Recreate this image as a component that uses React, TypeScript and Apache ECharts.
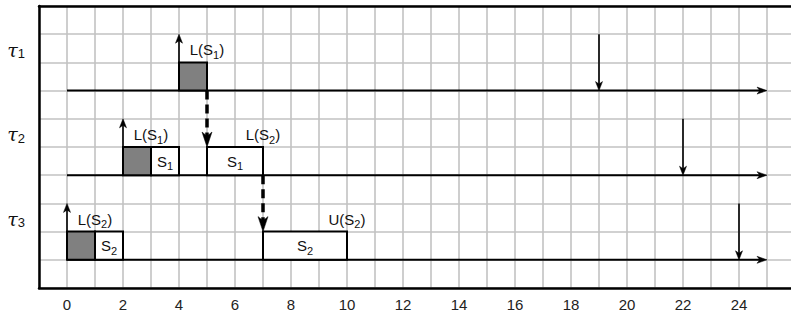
import React, { useEffect, useRef } from "react";
import * as echarts from "echarts";

// ---- axes ----
const X_MIN = -1;
const X_MAX = 26;
const Y_MIN = 0;
const Y_MAX = 10;
const xTickLabels = [0, 2, 4, 6, 8, 10, 12, 14, 16, 18, 20, 22, 24];

// ---- tasks ----
const taskSubscripts = ["1", "2", "3"];
const taskBaselines = [7, 4, 1];
const releaseTimes = [4, 2, 0];
const deadlines = [19, 22, 24];
const horizonEnd = 25;
const arrowRise = 2;

// ---- blocked (grey) sections ----
const blockedStart = [4, 2, 0];
const blockedEnd = [5, 3, 1];
const blockedTask = [0, 1, 2];

// ---- critical sections (white) ----
const csStart = [3, 5, 1, 7];
const csEnd = [4, 7, 2, 10];
const csTask = [1, 1, 2, 2];
const csResource = ["1", "1", "2", "2"];

// ---- lock / unlock event labels ----
const evX = [5, 3, 7, 1, 10];
const evTask = [0, 1, 1, 2, 2];
const evOp = ["L", "L", "L", "L", "U"];
const evResource = ["1", "1", "2", "2", "2"];

// ---- dashed transfer arrows ----
const transferX = [5, 7];
const transferFrom = [0, 1];
const transferTo = [1, 2];

const SANS = "'Liberation Sans', Arial, sans-serif";

export default function App() {
  const ref = useRef<HTMLDivElement>(null);

  useEffect(() => {
    if (!ref.current) return;
    const chart = echarts.init(ref.current, undefined, { renderer: "svg" });

    // boxes: [start, end, baseline, kind]  kind 0 = grey, 1 = white
    const boxData: number[][] = [];
    const boxRes: string[] = [];
    blockedStart.forEach((s, i) => {
      boxData.push([s, blockedEnd[i], taskBaselines[blockedTask[i]], 0]);
      boxRes.push("");
    });
    csStart.forEach((s, i) => {
      boxData.push([s, csEnd[i], taskBaselines[csTask[i]], 1]);
      boxRes.push(csResource[i]);
    });

    // arrows: [x1, y1, x2, y2, kind] kind 0 = timeline, 1 = thin, 2 = dashed
    const arrowData: number[][] = [];
    taskBaselines.forEach((b) => arrowData.push([0, b, horizonEnd, b, 0]));
    releaseTimes.forEach((r, i) =>
      arrowData.push([r, taskBaselines[i], r, taskBaselines[i] + arrowRise, 1])
    );
    deadlines.forEach((d, i) =>
      arrowData.push([d, taskBaselines[i] + arrowRise, d, taskBaselines[i], 1])
    );
    transferX.forEach((x, i) =>
      arrowData.push([x, taskBaselines[transferFrom[i]], x, taskBaselines[transferTo[i]] + 1, 2])
    );

    const arrowStyles = [
      { w: 2, len: 10, hw: 7, dash: null as number[] | null },
      { w: 1.6, len: 9, hw: 7, dash: null as number[] | null },
      { w: 3.5, len: 15, hw: 10, dash: [9, 5] },
    ];

    const evData = evX.map((x, i) => [x, taskBaselines[evTask[i]] + 1.44]);
    const tauData = taskBaselines.map((b) => [X_MIN, b + 1.45]);

    const richSub = (main: number, sub: number, pad: number, family = SANS) => ({
      m: { fontSize: main, fontFamily: family, fill: "#111" },
      s: { fontSize: sub, fontFamily: SANS, fill: "#111", padding: [pad, 0, 0, 0] },
    });

    chart.setOption({
      animation: false,
      backgroundColor: "#fff",
      grid: {
        left: 39,
        top: 6,
        width: 756,
        height: 282,
        containLabel: false,
        outerBoundsMode: "none",
      },
      xAxis: [
        {
          type: "value",
          min: X_MIN,
          max: X_MAX,
          interval: 1,
          position: "bottom",
          axisLine: { show: true, onZero: false, lineStyle: { color: "#000", width: 2.5 } },
          axisTick: { show: false },
          splitLine: { show: true, lineStyle: { color: "#c2c2c2", width: 1.6 } },
          axisLabel: {
            show: true,
            margin: 9,
            fontSize: 15,
            fontFamily: SANS,
            color: "#222",
            showMinLabel: true,
            showMaxLabel: true,
            formatter: (v: number) => (xTickLabels.indexOf(v) >= 0 ? String(v) : ""),
          },
        },
        {
          type: "value",
          min: X_MIN,
          max: X_MAX,
          interval: 1,
          position: "top",
          axisLine: { show: true, onZero: false, lineStyle: { color: "#000", width: 2.5 } },
          axisTick: { show: false },
          splitLine: { show: false },
          axisLabel: { show: false },
        },
      ],
      yAxis: {
        type: "value",
        min: Y_MIN,
        max: Y_MAX,
        interval: 1,
        axisLine: { show: true, onZero: false, lineStyle: { color: "#000", width: 2.5 } },
        axisTick: { show: false },
        axisLabel: { show: false },
        splitLine: { show: true, lineStyle: { color: "#c2c2c2", width: 1.6 } },
      },
      series: [
        {
          type: "custom",
          name: "arrows",
          silent: true,
          z: 3,
          data: arrowData,
          encode: { x: [0, 2], y: [1, 3] },
          renderItem: (params: any, api: any) => {
            const p1 = api.coord([api.value(0), api.value(1)]);
            const p2 = api.coord([api.value(2), api.value(3)]);
            const st = arrowStyles[api.value(4)];
            const dx = p2[0] - p1[0];
            const dy = p2[1] - p1[1];
            const d = Math.sqrt(dx * dx + dy * dy) || 1;
            const ux = dx / d;
            const uy = dy / d;
            const px = -uy;
            const py = ux;
            const endX = p2[0] - ux * st.len * 0.6;
            const endY = p2[1] - uy * st.len * 0.6;
            const bx = p2[0] - ux * st.len;
            const by = p2[1] - uy * st.len;
            const nx = p2[0] - ux * st.len * 0.72;
            const ny = p2[1] - uy * st.len * 0.72;
            return {
              type: "group",
              children: [
                {
                  type: "line",
                  shape: { x1: p1[0], y1: p1[1], x2: endX, y2: endY },
                  style: {
                    stroke: "#000",
                    lineWidth: st.w,
                    lineDash: st.dash || undefined,
                  },
                },
                {
                  type: "polygon",
                  shape: {
                    points: [
                      [p2[0], p2[1]],
                      [bx + (px * st.hw) / 2, by + (py * st.hw) / 2],
                      [nx, ny],
                      [bx - (px * st.hw) / 2, by - (py * st.hw) / 2],
                    ],
                  },
                  style: { fill: "#000", stroke: "#000", lineWidth: 0.5 },
                },
              ],
            };
          },
        },
        {
          type: "custom",
          name: "sections",
          silent: true,
          z: 4,
          data: boxData,
          encode: { x: [0, 1], y: 2 },
          renderItem: (params: any, api: any) => {
            const yb = api.value(2);
            const p0 = api.coord([api.value(0), yb + 1]);
            const p1 = api.coord([api.value(1), yb]);
            const kind = api.value(3);
            const children: any[] = [
              {
                type: "rect",
                shape: { x: p0[0], y: p0[1], width: p1[0] - p0[0], height: p1[1] - p0[1] },
                style: { fill: kind ? "#fff" : "#808080", stroke: "#000", lineWidth: 2 },
              },
            ];
            if (kind) {
              children.push({
                type: "text",
                x: (p0[0] + p1[0]) / 2,
                y: (p0[1] + p1[1]) / 2,
                style: {
                  text: `{m|S}{s|${boxRes[params.dataIndex]}}`,
                  rich: richSub(15, 11, 10),
                  align: "center",
                  verticalAlign: "middle",
                },
              });
            }
            return { type: "group", children };
          },
        },
        {
          type: "custom",
          name: "events",
          silent: true,
          z: 5,
          data: evData,
          encode: { x: 0, y: 1 },
          renderItem: (params: any, api: any) => {
            const p = api.coord([api.value(0), api.value(1)]);
            const i = params.dataIndex;
            return {
              type: "text",
              x: p[0],
              y: p[1],
              style: {
                text: `{m|${evOp[i]}(S}{s|${evResource[i]}}{m|)}`,
                rich: richSub(15, 11, 10),
                align: "center",
                verticalAlign: "middle",
              },
            };
          },
        },
        {
          type: "custom",
          name: "tasks",
          silent: true,
          z: 5,
          data: tauData,
          encode: { x: 0, y: 1 },
          renderItem: (params: any, api: any) => {
            const p = api.coord([api.value(0), api.value(1)]);
            const i = params.dataIndex;
            return {
              type: "text",
              x: p[0] - 14,
              y: p[1],
              style: {
                text: `{t|τ}{s|${taskSubscripts[i]}}`,
                rich: {
                  t: {
                    fontSize: 19,
                    fontFamily: "'DejaVu Serif', serif",
                    fontStyle: "italic",
                    fill: "#111",
                  },
                  s: { fontSize: 13, fontFamily: SANS, fill: "#111", padding: [8, 0, 0, 0] },
                },
                align: "right",
                verticalAlign: "middle",
              },
            };
          },
        },
      ],
    });

    return () => chart.dispose();
  }, []);

  return (
    <div
      ref={ref}
      style={{ position: "absolute", left: 0, top: 0, width: 791, height: 312 }}
    />
  );
}
